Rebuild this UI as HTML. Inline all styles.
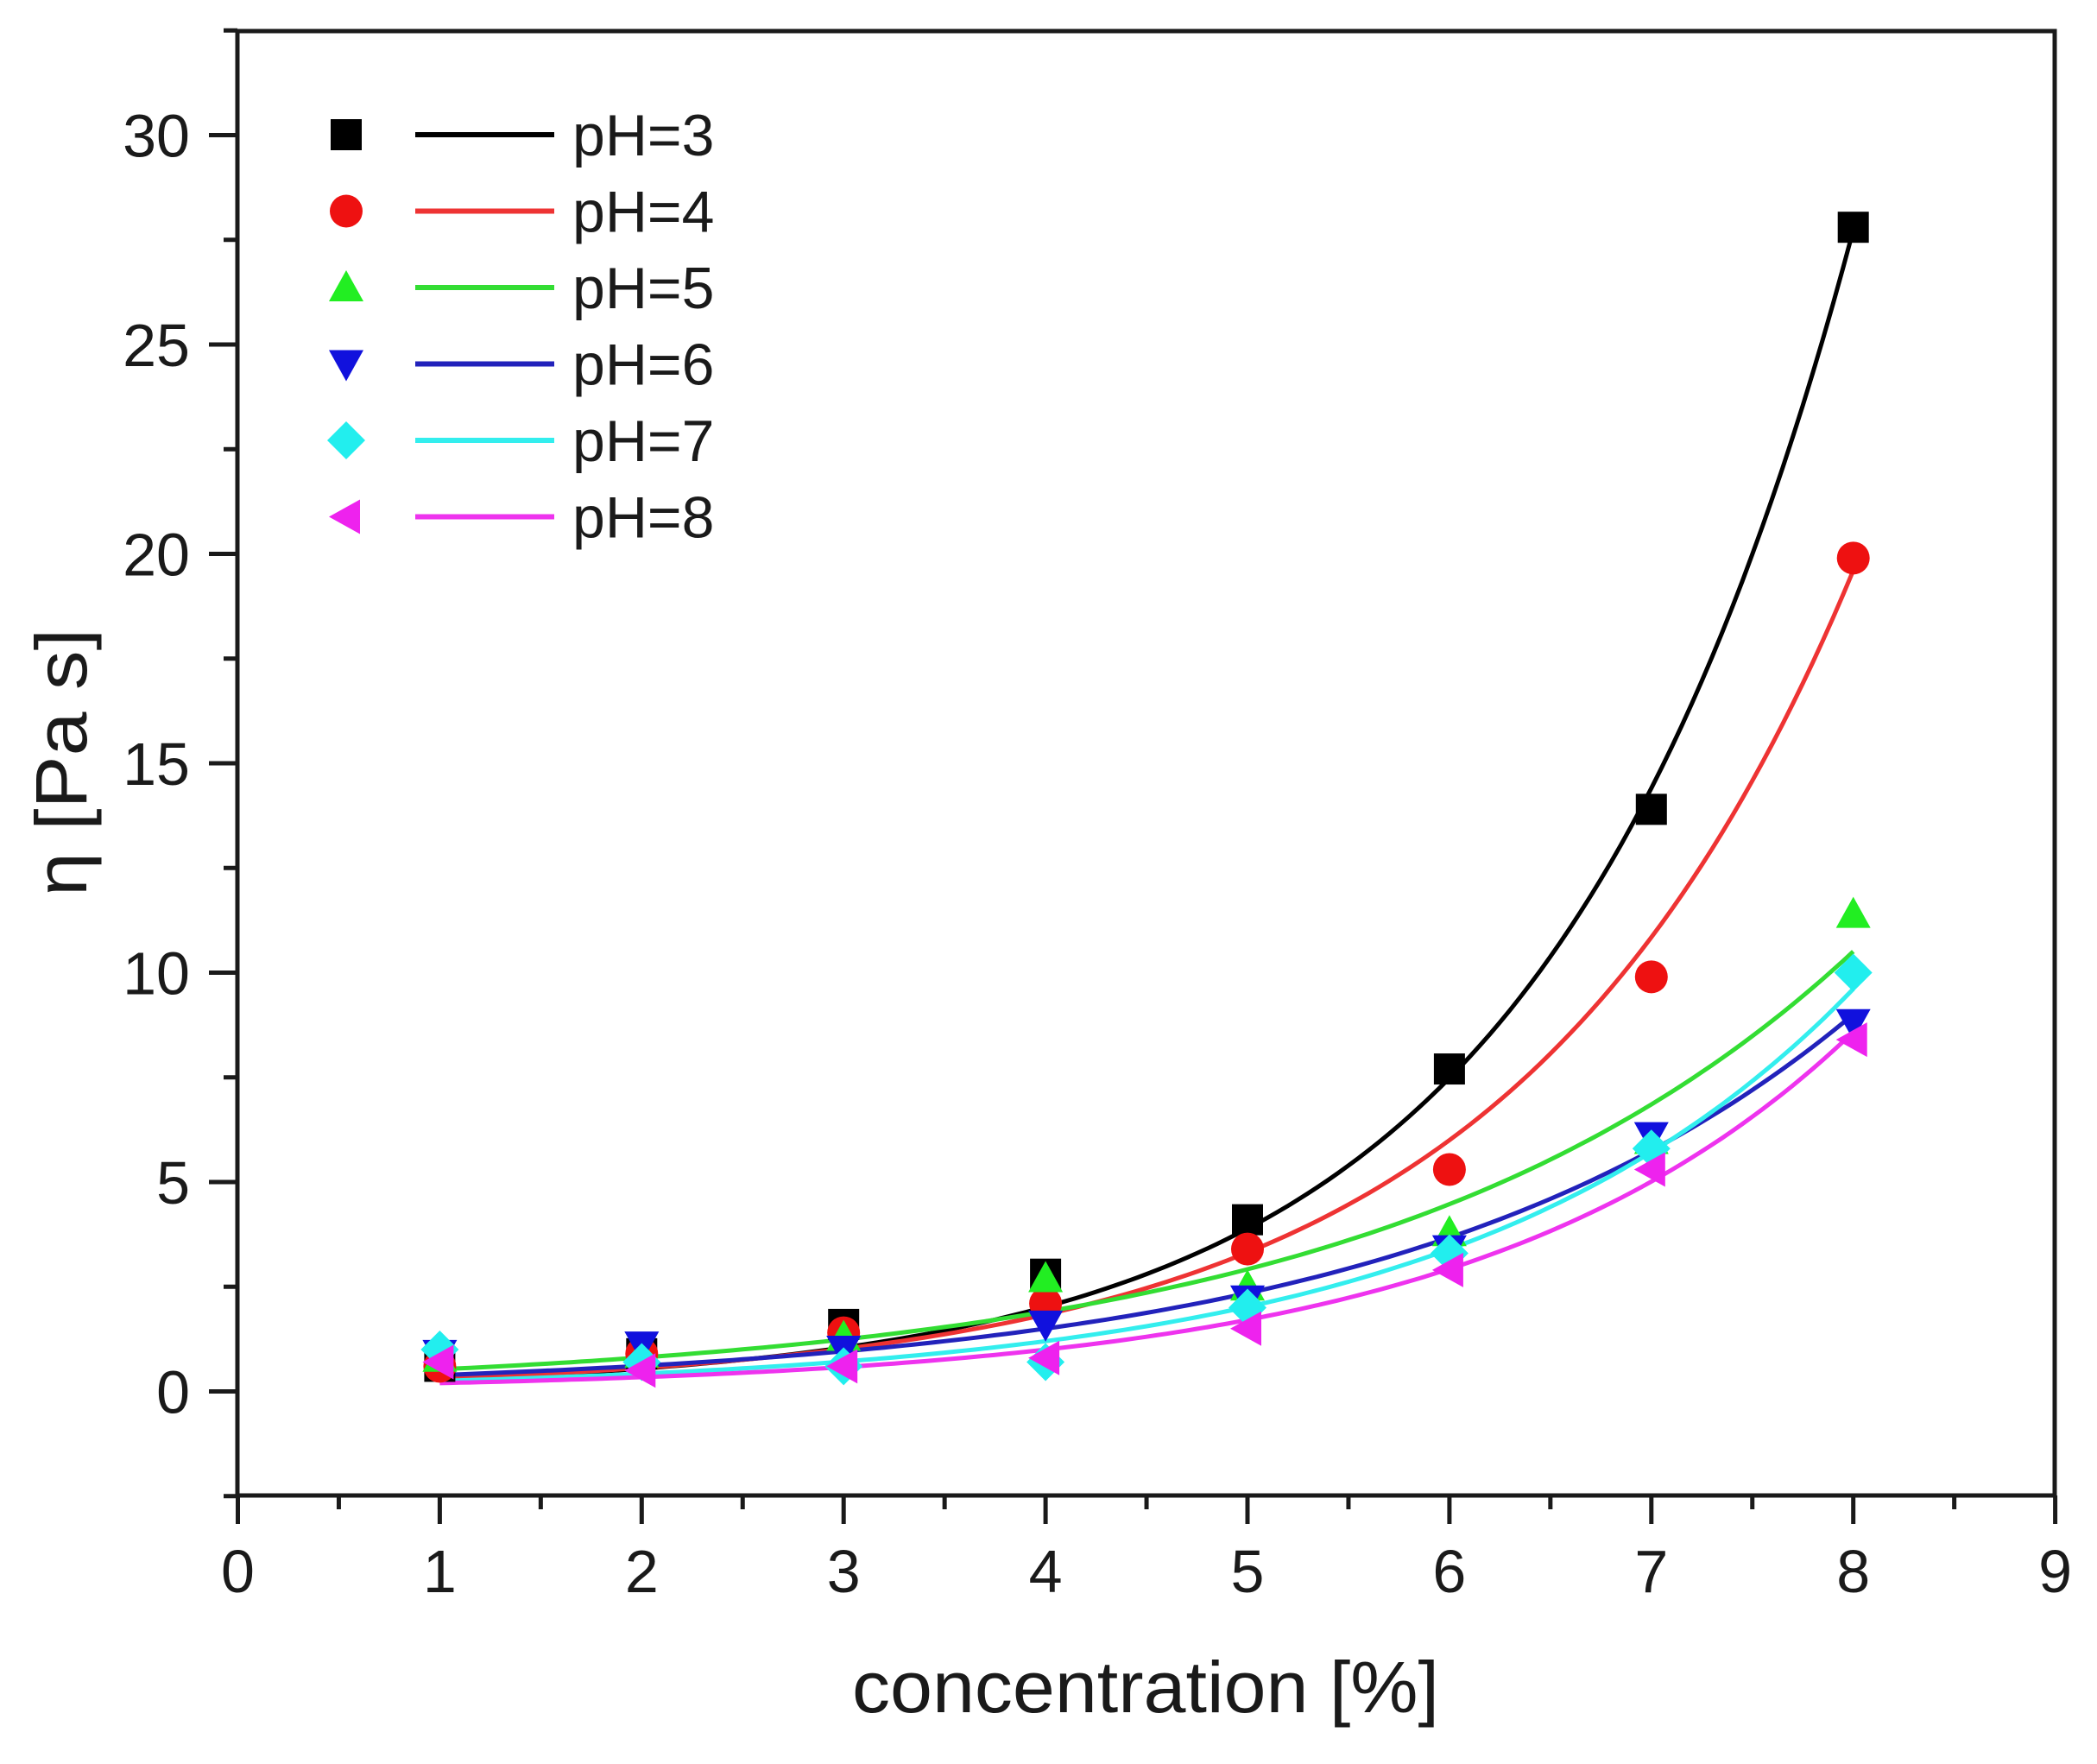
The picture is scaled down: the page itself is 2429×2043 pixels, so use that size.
<!DOCTYPE html>
<html><head><meta charset="utf-8"><style>
html,body{margin:0;padding:0;background:#fff}
svg{display:block}
text{font-family:"Liberation Sans",Arial,sans-serif;fill:#1a1a1a}
</style></head><body>
<svg id="s" width="2429" height="2043" viewBox="0 0 2429 2043" xmlns="http://www.w3.org/2000/svg">
<rect width="2429" height="2043" fill="#fff"/>
<g id="curves" fill="none" stroke-width="5"></g>
<g id="marks"></g>
<rect x="275" y="36" width="2105" height="1696" fill="none" stroke="#1a1a1a" stroke-width="5"/>
<g id="ticks" stroke="#1a1a1a" stroke-width="5"></g>
<g id="labels" font-size="70"></g>
<g id="legend"></g>
<text x="1327" y="1983" font-size="84" text-anchor="middle" textLength="680" lengthAdjust="spacingAndGlyphs">concentration [%]</text>
<text transform="translate(100,883) rotate(-90)" font-size="84" text-anchor="middle" textLength="310" lengthAdjust="spacingAndGlyphs">η [Pa s]</text>
</svg>
<script>
var NS="http://www.w3.org/2000/svg";
function X(v){return 275.5+v*233.9;}
function Y(v){return 1611.5-v*48.5;}
function el(p,t,a){var e=document.createElementNS(NS,t);for(var k in a)e.setAttribute(k,a[k]);document.getElementById(p).appendChild(e);return e;}
for(var i=0;i<=18;i++){var v=i/2,l=(i%2==0)?33:16;el('ticks','line',{x1:X(v),y1:1732,x2:X(v),y2:1732+l});}
for(var i=-1;i<=13;i++){var v=i*2.5,l=(i%2==0)?33:16;el('ticks','line',{x1:275,y1:Y(v),x2:275-l,y2:Y(v)});}
for(var i=0;i<=9;i++){var t=el('labels','text',{x:X(i),y:1844,'text-anchor':'middle'});t.textContent=i;}
for(var i=0;i<=6;i++){var t=el('labels','text',{x:220,y:Y(i*5)+25,'text-anchor':'end'});t.textContent=i*5;}
var S=[
 {c:'#000000',m:'sq',a:0.147,b:0.655,d:[0.6,0.9,1.6,2.8,4.1,7.7,13.9,27.8]},
 {c:'#ee1111',m:'ci',a:0.172,b:0.592,d:[0.6,0.9,1.4,2.1,3.4,5.3,9.9,19.9]},
 {c:'#22ee22',m:'up',a:0.345,b:0.427,d:[0.8,0.9,1.3,2.7,2.5,3.8,6.0,11.4]},
 {c:'#1111dd',m:'dn',a:0.25,b:0.448,d:[0.9,1.1,1.0,1.6,2.2,3.4,6.1,8.8]},
 {c:'#22eeee',m:'di',a:0.15,b:0.52,d:[1.0,0.7,0.6,0.7,2.0,3.3,5.8,10.0]},
 {c:'#ee22ee',m:'lt',a:0.116,b:0.538,d:[0.7,0.5,0.6,0.8,1.5,2.9,5.3,8.4]}
];
var col={'#000000':'#000','#ee1111':'#e33','#22ee22':'#3d3','#1111dd':'#22b','#22eeee':'#3ee','#ee22ee':'#e3e'};
function marker(g,m,x,y,c){var r=18;
 if(m=='sq')el(g,'rect',{x:x-r,y:y-r,width:2*r,height:2*r,fill:c});
 else if(m=='ci')el(g,'circle',{cx:x,cy:y,r:r+1,fill:c});
 else if(m=='up')el(g,'polygon',{points:(x)+','+(y-r-2)+' '+(x-r-2)+','+(y+r-2)+' '+(x+r+2)+','+(y+r-2),fill:c});
 else if(m=='dn')el(g,'polygon',{points:(x)+','+(y+r+2)+' '+(x-r-2)+','+(y-r+2)+' '+(x+r+2)+','+(y-r+2),fill:c});
 else if(m=='di')el(g,'polygon',{points:x+','+(y-r-4)+' '+(x+r+4)+','+y+' '+x+','+(y+r+4)+' '+(x-r-4)+','+y,fill:c});
 else el(g,'polygon',{points:(x-r-2)+','+y+' '+(x+r-2)+','+(y-r-2)+' '+(x+r-2)+','+(y+r+2),fill:c});
}
S.forEach(function(s,k){
 var p='';for(var x=1;x<=8.001;x+=0.05){p+=(p?'L':'M')+X(x).toFixed(1)+','+Y(s.a*Math.exp(s.b*x)).toFixed(1);}
 el('curves','path',{d:p,stroke:col[s.c]});
 s.d.forEach(function(v,i){marker('marks',s.m,X(i+1),Y(v),s.c);});
 var ly=156+k*88.5;
 marker('legend',s.m,401,ly,s.c);
 el('legend','line',{x1:481,y1:ly,x2:642,y2:ly,stroke:col[s.c],'stroke-width':6});
 var t=el('legend','text',{x:663,y:ly+24,'font-size':68});t.textContent='pH='+(k+3);
});
</script>
</body></html>
